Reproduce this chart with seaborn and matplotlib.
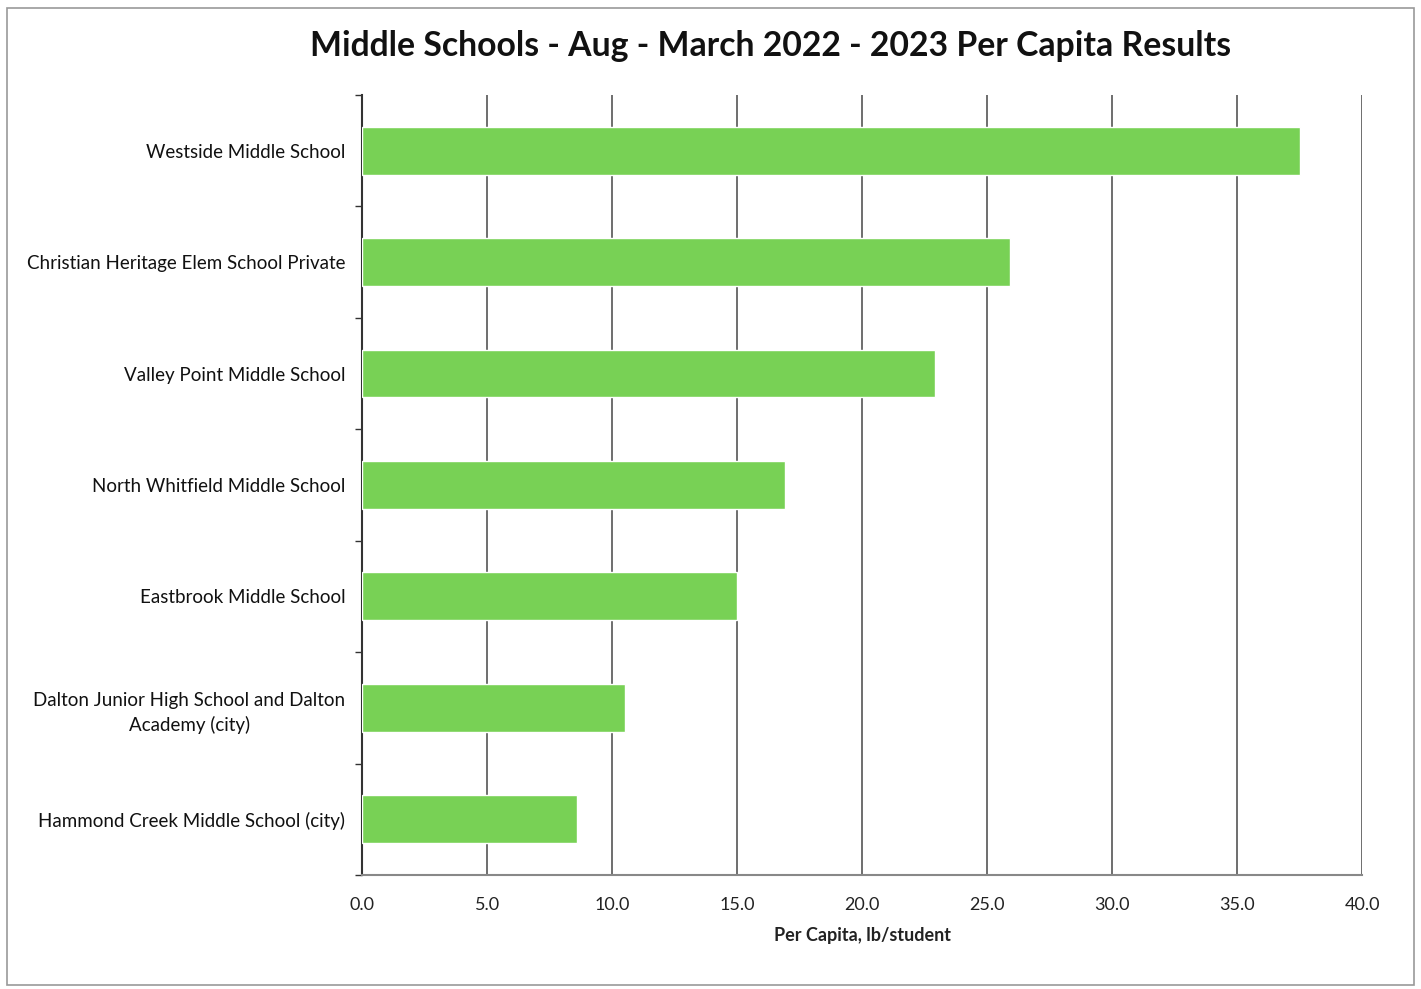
import matplotlib
matplotlib.use("Agg")
import matplotlib.pyplot as plt
import seaborn as sns
import pandas as pd
import numpy as np
from matplotlib.patches import Rectangle

schools = [
    "Westside Middle School",
    "Christian Heritage Elem School Private",
    "Valley Point Middle School",
    "North Whitfield Middle School",
    "Eastbrook Middle School",
    "Dalton Junior High School and Dalton\nAcademy (city)",
    "Hammond Creek Middle School (city)",
]
per_capita = [37.5, 25.9, 22.9, 16.9, 15.0, 10.5, 8.6]
x_ticks = [0, 5, 10, 15, 20, 25, 30, 35, 40]

sns.set_theme(style="white")
plt.rcParams['font.family'] = ['Lato', 'DejaVu Sans']

df = pd.DataFrame({"school": schools, "value": per_capita})

fig = plt.figure(figsize=(14.21, 9.89), dpi=100)
ax = fig.add_axes([0.2548, 0.1153, 0.7037, 0.7887])

sns.barplot(data=df, x="value", y="school", orient="h", color="#78D155",
            saturation=1, width=0.43, ax=ax, zorder=3)

ax.set_xlim(0, 40)
ax.set_ylim(len(schools) - 0.5, -0.5)
ax.set_xticks(x_ticks)
ax.set_xticklabels([f"{t:.1f}" for t in x_ticks], fontsize=13, color="#222222")
ax.xaxis.grid(True, color="#555555", linewidth=1.2)
ax.set_axisbelow(True)
for gl in ax.get_xgridlines():
    gl.set_zorder(1)

ax.set_yticks(range(len(schools)))
ax.set_yticklabels(schools, fontsize=13.5, color="#111111")
for lbl in ax.get_yticklabels():
    lbl.set_multialignment("center")
    lbl.set_linespacing(1.5)
ax.tick_params(axis="y", length=0, pad=12)
ax.tick_params(axis="x", length=0, pad=16)
ax.set_yticks(np.arange(-0.5, len(schools), 1), minor=True)
ax.tick_params(axis="y", which="minor", length=5, color="#333333", left=True)

for s in ["top", "right"]:
    ax.spines[s].set_visible(False)
ax.spines["left"].set_color("#333333")
ax.spines["left"].set_linewidth(1.5)
ax.spines["bottom"].set_color("#888888")
ax.spines["bottom"].set_linewidth(1.5)

ax.set_xlabel("Per Capita, lb/student", fontsize=13, fontweight="bold", labelpad=10, color="#222222")
ax.set_ylabel("")

fig.text(0.542, 0.953, "Middle Schools - Aug - March 2022 - 2023 Per Capita Results",
         ha="center", va="center", fontsize=24.3, fontweight="bold", color="#111111")

fig.patches.append(Rectangle((0.005, 0.004), 0.99, 0.988, transform=fig.transFigure,
                             fill=False, edgecolor="#999999", linewidth=1.2))

fig.savefig("out.png", dpi=100)
